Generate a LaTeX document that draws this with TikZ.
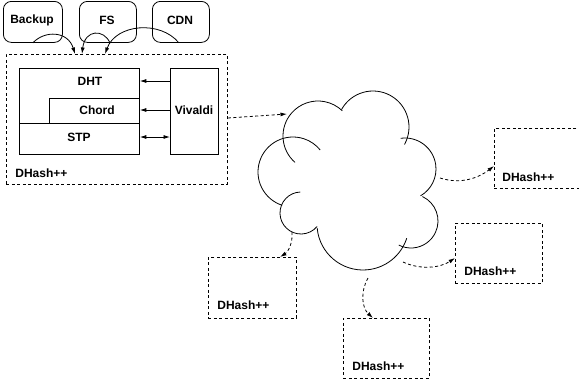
\documentclass[tikz,border=0pt]{standalone}
\usepackage{fontspec}
\setmainfont{Liberation Sans}
\usetikzlibrary{arrows.meta}
\begin{document}
\begin{tikzpicture}[x=1pt,y=-1pt,line width=0.8pt,
  lbl/.style={font=\bfseries\fontsize{12}{14}\selectfont,inner sep=0pt},
  box/.style={draw,anchor=north west,inner sep=0pt},
  app/.style={box,rounded corners=8pt,minimum height=41pt},
  dhbox/.style={box,dash pattern=on 3pt off 2.5pt,minimum height=60pt},
  arr/.style={-{Latex[length=6.5pt,width=4pt]}},
  darr/.style={arr,dash pattern=on 3pt off 2.5pt},
  cloudarc/.style={line width=0.8pt}]
\useasboundingbox (0,0) rectangle (579,381);
% top applications
\node[app,minimum width=59pt] (backup) at (3,1) {};
\node[app,minimum width=57pt] (fs) at (79,1) {};
\node[app,minimum width=57pt] (cdn) at (152,1) {};
\node[lbl] (backupl) at (32,20) {Backup};
\node[lbl] (fsl) at (107,20) {FS};
\node[lbl] (cdnl) at (180,20) {CDN};
% main DHash++ box
\node[dhbox,minimum width=221pt,minimum height=130pt] (dh0) at (6,54) {};
\node[box,minimum width=120pt,minimum height=86pt] (stack) at (19,68) {};
\node[box,minimum width=90pt,minimum height=25pt] (chord) at (49,98) {};
\node[box,minimum width=120pt,minimum height=31pt] (stp) at (19,123) {};
\node[box,minimum width=48pt,minimum height=86pt] (viv) at (170,68) {};
\node[lbl] (dhtl) at (90,81) {DHT};
\node[lbl] (chordl) at (97,110) {Chord};
\node[lbl] (stpl) at (79,137) {STP};
\node[lbl] (vivl) at (194,110) {Vivaldi};
\node[lbl,anchor=west] (dh0l) at (15,173) {DHash++};
\draw[arr] (viv.west |- dhtl) -- (stack.east |- dhtl);
\draw[arr] (viv.west |- chordl) -- (stack.east |- chordl);
\draw[{Latex[length=6.5pt,width=4pt]}-{Latex[length=6.5pt,width=4pt]}] (viv.west |- stpl) -- (stack.east |- stpl);
% application arrows
\coordinate (t1) at (75,54);
\coordinate (t2) at (82,54);
\coordinate (t3) at (105,54);
\draw[arr] (backup.south) .. controls (45,30) and (68,31) .. (t1);
\draw[arr] ([xshift=2pt]fs.south) .. controls (104,29) and (85,29) .. (t2);
\draw[arr] ([xshift=-2pt]cdn.south) .. controls (160,20) and (116,24) .. (t3);
% cloud
\draw[cloudarc] (318,136) ++(131:35) arc[start angle=131,end angle=314,radius=35];
\draw[cloudarc] (373,127) ++(209:36) arc[start angle=209,end angle=389,radius=36];
\draw[cloudarc] (405,169) ++(262:31) arc[start angle=262,end angle=420,radius=31];
\draw[cloudarc] (411,221) ++(295:27) arc[start angle=295,end angle=477,radius=27];
\draw[cloudarc] (363,224) ++(175:46) arc[start angle=175,end angle=18,radius=46];
\draw[cloudarc] (301,213) ++(268:21) arc[start angle=268,end angle=40,radius=21];
\draw[cloudarc] (293,172) ++(108:35) arc[start angle=108,end angle=321,radius=35];
% remote DHash++ boxes
\node[dhbox,minimum width=110pt] (dh1) at (494,128) {};
\node[dhbox,minimum width=87pt] (dh2) at (455,223) {};
\node[dhbox,minimum width=86pt] (dh3) at (343,318) {};
\node[dhbox,minimum width=88pt,minimum height=61pt] (dh4) at (208,257) {};
\node[lbl,anchor=west] (dh1l) at (502,177) {DHash++};
\node[lbl,anchor=west] (dh2l) at (464,271) {DHash++};
\node[lbl,anchor=west] (dh3l) at (352,366) {DHash++};
\node[lbl,anchor=west] (dh4l) at (217,305) {DHash++};
% cloud connections
\coordinate (c0) at (287,114);
\coordinate (c1) at (440,178);
\coordinate (c2) at (403,262);
\coordinate (c3) at (368,278);
\coordinate (c4) at (292,232);
\draw[darr] (dh0.east |- 0,118) -- (c0);
\draw[darr] (c1) .. controls (462,185) and (480,177) .. (dh1.west |- 0,166);
\draw[darr] (c2) .. controls (420,270) and (440,268) .. (dh2.west |- 0,258);
\draw[darr] (c3) .. controls (360,292) and (362,308) .. (373,318);
\draw[darr] (c4) .. controls (293,243) and (288,252) .. (280,257);
\end{tikzpicture}
\end{document}
